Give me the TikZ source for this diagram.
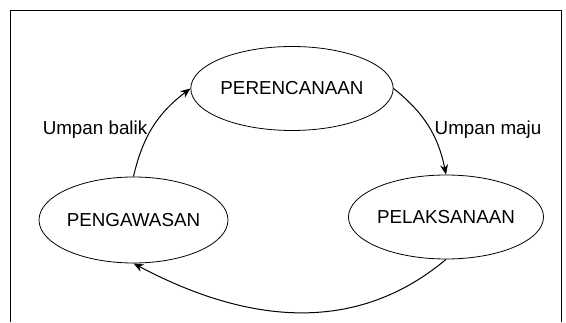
\documentclass[tikz,border=0pt]{standalone}
\usepackage{fontspec}
\setmainfont{Liberation Sans}
\usetikzlibrary{shapes.geometric, arrows.meta}

\begin{document}
\begin{tikzpicture}[x=1pt, y=1pt, font=\fontsize{18.8}{22}\selectfont,
  phase/.style={draw, ellipse, line width=0.8pt, inner sep=0pt, minimum width=189pt, minimum height=84pt},
  flow/.style={-{Stealth[length=10pt, width=8pt]}, line width=1pt}]
  \useasboundingbox (0,0) rectangle (566,322);
  \draw[line width=0.8pt] (10,0) -- (10,312) -- (561,312) -- (561,0);
  \node[phase] (plan) at (292,233.5) {PERENCANAAN};
  \node[phase] (exec) at (446,105) {PELAKSANAAN};
  \node[phase, minimum height=86pt] (ctrl) at (133.5,102) {PENGAWASAN};
  \node[anchor=base] (fb) at (95,187) {Umpan balik};
  \node[anchor=base] (ff) at (488,187) {Umpan maju};
  \draw[flow] (ctrl.north) to[bend left=20] (plan.west);
  \draw[flow] (plan.east) to[bend left=20] (exec.north);
  \draw[flow] (exec.south) to[out=-140, in=-28] (ctrl.south);
\end{tikzpicture}
\end{document}
